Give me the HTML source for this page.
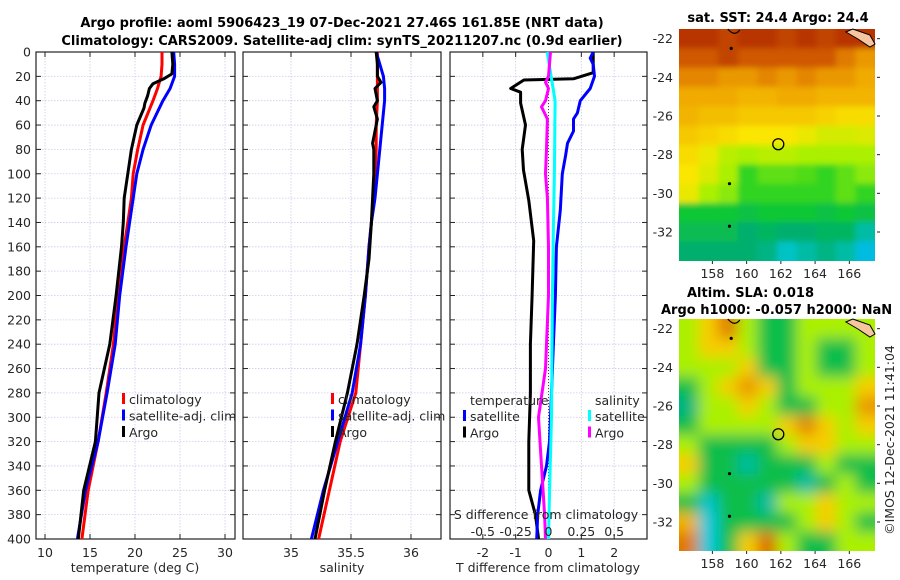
<!DOCTYPE html>
<html><head><meta charset="utf-8">
<style>
html,body{margin:0;padding:0;background:#fff;}
svg{display:block;font-family:"DejaVu Sans","Liberation Sans",sans-serif;}
.t{font-size:12.5px;fill:#262626;}
.ti{font-size:13px;font-weight:bold;fill:#000;}
</style></head>
<body>
<svg id="fig" width="900" height="580" viewBox="0 0 900 580">
<defs>
<filter id="blur" x="-10%" y="-10%" width="120%" height="120%"><feGaussianBlur stdDeviation="7" edgeMode="duplicate"/></filter>
<filter id="blur2" x="-10%" y="-10%" width="120%" height="120%"><feGaussianBlur stdDeviation="3" edgeMode="duplicate"/></filter>
<clipPath id="clip-sst"><rect x="679" y="29" width="196" height="232"/></clipPath>
<clipPath id="clip-sla"><rect x="679" y="319" width="196" height="232"/></clipPath>
</defs>
</svg>
<script>
// ---------- data ----------
const depthTicks=[0,20,40,60,80,100,120,140,160,180,200,220,240,260,280,300,320,340,360,380,400];
const tempTicks=[10,15,20,25,30];
const salTicks=[35,35.5,36];
const salTickLabels=["35","35.5","36"];
const tdiffTicks=[-2,-1,0,1,2];
const sdiffTicks=[-0.5,-0.25,0,0.25,0.5];
const sdiffTickLabels=["-0.5","-0.25","0","0.25","0.5"];
const lonTicks=[158,160,162,164,166];
const latTicks=[-22,-24,-26,-28,-30,-32];

const climDepth=[0,10,20,30,40,60,80,100,120,140,160,200,240,280,320,360,400];
const climTemp=[23.0,23.0,22.9,22.5,22.0,20.9,20.3,19.8,19.6,19.2,18.8,18.1,17.6,16.8,15.9,14.8,14.1];
const satTemp=[24.3,24.4,24.4,23.9,23.1,21.8,20.9,20.2,19.8,19.4,19.0,18.3,17.8,16.9,15.9,14.5,13.6];
const argoDepth=[0,10,18,22,26,30,36,42,46,60,80,100,120,140,160,200,240,280,320,360,400];
const argoTemp=[24.1,24.2,24.1,23.2,22.0,21.6,21.4,21.1,21.0,20.2,19.6,19.2,18.8,18.7,18.5,17.9,17.2,16.0,15.6,14.3,13.7];

const climSal=[35.72,35.72,35.72,35.72,35.72,35.71,35.71,35.70,35.69,35.67,35.65,35.62,35.58,35.54,35.41,35.32,35.23];
const satSal=[35.71,35.74,35.77,35.78,35.78,35.76,35.74,35.72,35.70,35.67,35.65,35.62,35.58,35.51,35.39,35.27,35.17];
const argoSalDepth=[0,10,20,25,30,40,45,55,75,80,100,120,140,170,200,240,280,320,360,400];
const argoSal=[35.71,35.72,35.72,35.75,35.70,35.72,35.69,35.72,35.68,35.69,35.69,35.68,35.67,35.65,35.61,35.55,35.47,35.37,35.28,35.20];

const satTdDepth=[0,5,10,20,30,40,50,55,65,75,85,100,130,160,200,240,280,320,340,360,380,400];
const satTdiff=[1.36,1.27,1.36,1.4,1.27,0.97,0.88,0.76,0.76,0.58,0.52,0.42,0.36,0.24,0.21,0.15,0.09,0.03,-0.06,-0.24,-0.33,-0.36];
const argoTdDepth=[0,17,22,23,30,33,42,60,80,97,122,155,200,240,280,320,360,380,400];
const argoTdiff=[1.36,1.36,0.76,-0.75,-1.15,-0.85,-0.85,-0.7,-0.8,-0.76,-0.6,-0.45,-0.5,-0.55,-0.55,-0.6,-0.6,-0.4,-0.3];
const satSdDepth=[0,20,40,100,140,200,300,360,400];
const satSdiff=[-0.01,0.02,0.05,0.045,0.038,0.03,0.023,0.008,0.0];
const argoSdDepth=[0,20,25,30,40,45,55,80,100,120,160,200,260,300,340,380,400];
const argoSdiff=[0.015,0.0,-0.023,0.0,-0.023,-0.053,-0.008,-0.015,-0.023,-0.008,0.0,0.0,-0.023,-0.076,-0.053,-0.03,-0.023];

// map grids (rows north->south, cols west->east), normalised colour value 0..1
const sstGrid=[
[0.9,0.9,0.88,0.9,0.9,0.88,0.9,0.88,0.9,0.9],
[0.85,0.85,0.88,0.85,0.85,0.85,0.85,0.85,0.8,0.75],
[0.78,0.78,0.75,0.75,0.78,0.75,0.78,0.75,0.75,0.72],
[0.72,0.72,0.72,0.7,0.7,0.72,0.72,0.7,0.7,0.7],
[0.7,0.68,0.68,0.66,0.66,0.66,0.66,0.64,0.62,0.62],
[0.66,0.64,0.62,0.6,0.6,0.6,0.58,0.55,0.55,0.56],
[0.62,0.58,0.52,0.5,0.52,0.52,0.5,0.5,0.5,0.5],
[0.6,0.56,0.5,0.42,0.45,0.45,0.44,0.42,0.45,0.48],
[0.58,0.5,0.48,0.42,0.42,0.42,0.42,0.42,0.45,0.42],
[0.38,0.38,0.38,0.36,0.38,0.38,0.38,0.36,0.38,0.36],
[0.34,0.34,0.34,0.3,0.32,0.3,0.3,0.32,0.32,0.25],
[0.3,0.3,0.3,0.3,0.28,0.22,0.25,0.28,0.25,0.18]];
const slaGrid=[
[0.5,0.65,0.8,0.5,0.35,0.35,0.5,0.5,0.5,0.5],
[0.5,0.65,0.65,0.5,0.35,0.35,0.5,0.35,0.35,0.5],
[0.5,0.5,0.5,0.65,0.35,0.35,0.5,0.35,0.35,0.5],
[0.35,0.5,0.65,0.75,0.65,0.35,0.5,0.5,0.5,0.65],
[0.28,0.5,0.5,0.65,0.5,0.35,0.35,0.5,0.5,0.75],
[0.35,0.5,0.5,0.5,0.5,0.65,0.78,0.65,0.5,0.65],
[0.5,0.35,0.35,0.35,0.35,0.5,0.65,0.65,0.5,0.5],
[0.65,0.35,0.35,0.25,0.35,0.35,0.35,0.5,0.35,0.35],
[0.5,0.35,0.35,0.35,0.35,0.35,0.25,0.35,0.5,0.35],
[0.35,0.22,0.35,0.35,0.25,0.5,0.5,0.65,0.5,0.5],
[0.7,0.2,0.35,0.35,0.35,0.35,0.5,0.65,0.5,0.35],
[0.8,0.2,0.35,0.65,0.82,0.5,0.35,0.35,0.5,0.5]];

const argoLon=161.85, argoLat=-27.46;

// ---------- helpers ----------
const NS="http://www.w3.org/2000/svg";
const svg=document.getElementById('fig');
function el(tag,attrs,parent){const e=document.createElementNS(NS,tag);for(const k in attrs)e.setAttribute(k,attrs[k]);(parent||svg).appendChild(e);return e;}
function txt(s,x,y,cls,anchor,parent){const e=el('text',{x:x,y:y,class:cls,'text-anchor':anchor||'start'},parent);e.textContent=s;return e;}
function lin(d0,d1,r0,r1){return v=>r0+(v-d0)/(d1-d0)*(r1-r0);}

const TOP=52,BOT=539;
const yD=lin(0,400,TOP,BOT);

function panel(name,x0,x1,xd0,xd1,xticks,xlabels,showY){
  const g=el('g',{},svg);
  
  
  const xs=lin(xd0,xd1,x0,x1);
  depthTicks.forEach(d=>{const l=el('line',{x1:x0,x2:x1,y1:yD(d),y2:yD(d),stroke:'#c8cde8','stroke-width':0.8,'stroke-dasharray':'1.5,1.5'},g);
    
    el('line',{x1:x0,x2:x0+5,y1:yD(d),y2:yD(d),stroke:'#222'},g);el('line',{x1:x1-5,x2:x1,y1:yD(d),y2:yD(d),stroke:'#222'},g);
    if(showY){const t=txt(String(d),31,yD(d)+4.5,'t','end',g);}
  });
  xticks.forEach((v,i)=>{const X=xs(v);
    const l=el('line',{x1:X,x2:X,y1:TOP,y2:BOT,stroke:'#c8cde8','stroke-width':0.8,'stroke-dasharray':'1.5,1.5'},g);
    
    el('line',{x1:X,x2:X,y1:BOT,y2:BOT-5,stroke:'#222'},g);el('line',{x1:X,x2:X,y1:TOP,y2:TOP+5,stroke:'#222'},g);
    const t=txt(xlabels?xlabels[i]:String(v),X,557,'t','middle',g);
  });
  const r=el('rect',{x:x0,y:TOP,width:x1-x0,height:BOT-TOP,fill:'none',stroke:'#222','stroke-width':1.2},g);
  
  return {g,xs};
}
function series(p,xs,vals,depths,color,name){
  const pts=vals.map((v,i)=>xs(v).toFixed(1)+','+yD(depths[i]).toFixed(1)).join(' ');
  const l=el('polyline',{points:pts,fill:'none',stroke:color,'stroke-width':3,'stroke-linejoin':'round'},p);
  
}
function legend(p,x,y,items){
  items.forEach((it,i)=>{const yy=y+i*16.5;
    const m=el('rect',{x:x,y:yy-8,width:3,height:11,fill:it[1]},p);
    
    const t=txt(it[0],x+7,yy+3,'t','start',p);
  });
}

let t1=txt('Argo profile: aoml 5906423_19 07-Dec-2021 27.46S 161.85E (NRT data)',342,27,'ti','middle');

let t2=txt('Climatology: CARS2009. Satellite-adj clim: synTS_20211207.nc (0.9d earlier)',342,45,'ti','middle');


const P1=panel('temperature-panel',36,235,9,31.11,tempTicks,null,true);
series(P1.g,P1.xs,climTemp,climDepth,'#ff0000','climatology-temp-line');
series(P1.g,P1.xs,satTemp,climDepth,'#0000ff','satellite-temp-line');
series(P1.g,P1.xs,argoTemp,argoDepth,'#000','argo-temp-line');
legend(P1.g,122,401,[['climatology','#f00'],['satellite-adj. clim','#00f'],['Argo','#000']]);
let xl=txt('temperature (deg C)',135,572,'t','middle');

const P2=panel('salinity-panel',243,441,34.6,36.25,salTicks,salTickLabels,false);
series(P2.g,P2.xs,climSal,climDepth,'#ff0000','climatology-sal-line');
series(P2.g,P2.xs,satSal,climDepth,'#0000ff','satellite-sal-line');
series(P2.g,P2.xs,argoSal,argoSalDepth,'#000','argo-sal-line');
legend(P2.g,331,401,[['climatology','#f00'],['satellite-adj. clim','#00f'],['Argo','#000']]);
xl=txt('salinity',342,572,'t','middle');

const P3=panel('difference-panel',450,647,-3,3,tdiffTicks,null,false);
const xsS=lin(-0.75,0.75,450,647);
let zl=el('line',{x1:P3.xs(0),x2:P3.xs(0),y1:TOP,y2:BOT,stroke:'#444','stroke-width':1,'stroke-dasharray':'1,2'},P3.g);

series(P3.g,P3.xs,argoTdiff,argoTdDepth,'#000','argo-tdiff-line');
series(P3.g,P3.xs,satTdiff,satTdDepth,'#0000ff','satellite-tdiff-line');
series(P3.g,xsS,satSdiff,satSdDepth,'#00ffff','satellite-sdiff-line');
series(P3.g,xsS,argoSdiff,argoSdDepth,'#ff00ff','argo-sdiff-line');
let lh=txt('temperature',470,405,'t','start',P3.g);
lh=txt('salinity',595,405,'t','start',P3.g);
legend(P3.g,463,418,[['satellite','#00f'],['Argo','#000']]);
legend(P3.g,588,418,[['satellite','#0ff'],['Argo','#f0f']]);
xl=txt('S difference from climatology',546,519,'t','middle',P3.g);
sdiffTicks.forEach((v,i)=>{const t=txt(sdiffTickLabels[i],xsS(v),536,'t','middle',P3.g);});
xl=txt('T difference from climatology',548,572,'t','middle');

// ---------- maps ----------
const cmapStops=[[0,[0,80,255]],[0.2,[0,200,220]],[0.3,[0,175,110]],[0.4,[20,205,40]],[0.5,[170,240,0]],[0.6,[250,230,0]],[0.72,[240,170,0]],[0.82,[220,110,0]],[0.92,[175,40,0]],[1,[140,0,0]]];
function cmap(v){for(let i=1;i<cmapStops.length;i++){if(v<=cmapStops[i][0]){const a=cmapStops[i-1],b=cmapStops[i];const f=(v-a[0])/(b[0]-a[0]);return 'rgb('+a[1].map((c,k)=>Math.round(c+f*(b[1][k]-c))).join(',')+')';}}return 'rgb(140,0,0)';}
function drawMap(name,grid,y0,y1,clipId,filt){
  const x0=679,x1=875;
  const g=el('g',{},svg);
  
  const xl=lin(156.05,167.5,x0,x1), yl=lin(-21.5,-33.5,y0,y1);
  const cg=el('g',{'clip-path':'url(#'+clipId+')'},g);
  const fg=el('g',{filter:'url(#'+filt+')'},cg);
  const rows=grid.length, cols=grid[0].length, cw=(x1-x0)/cols, ch=(y1-y0)/rows;
  grid.forEach((row,r)=>row.forEach((v,c)=>{const rc=el('rect',{x:x0+c*cw-(c==0?20:0),y:y0+r*ch-(r==0?20:0),width:cw+0.5+(c==0||c==cols-1?20:0),height:ch+0.5+(r==0||r==rows-1?20:0),fill:cmap(v)},fg);
    }));
  let p=el('path',{d:`M${xl(166.2)},${y0} L${xl(167.2)},${y0+6} L${xl(167.5)},${y0+15} L${xl(167.2)},${y0+18} L${xl(166.5)},${y0+10} L${xl(165.8)},${y0+3} Z`,fill:'#f5c6a0',stroke:'#000','stroke-width':1},g);
  
  p=el('path',{d:`M${xl(158.9)},${y0} Q${xl(159.3)},${y0+8} ${xl(159.6)},${y0+1}`,fill:'none',stroke:'#000','stroke-width':1.2},g);
  
  [[159.1,-22.5],[159.0,-29.5],[159.0,-31.7]].forEach(q=>{const d=el('circle',{cx:xl(q[0]),cy:yl(q[1]),r:1.6,fill:'#000'},g);});
  const c=el('circle',{cx:xl(argoLon),cy:yl(argoLat),r:5.5,fill:'none',stroke:'#000','stroke-width':1.3},g);
  
  lonTicks.forEach(v=>{const t=txt(String(v),xl(v),y1+17,'t','middle',g);
    el('line',{x1:xl(v),x2:xl(v),y1:y1,y2:y1+3,stroke:'#222'},g);});
  latTicks.forEach(v=>{const t=txt(String(v),673,yl(v)+4.5,'t','end',g);
    el('line',{x1:x1+2,x2:x1+5,y1:yl(v),y2:yl(v),stroke:'#222'},g);});
}
drawMap('sst-map',sstGrid,29,261,'clip-sst','blur2');
drawMap('sla-map',slaGrid,319,551,'clip-sla','blur');
let mt=txt('sat. SST: 24.4 Argo: 24.4',778,22,'ti','middle');
mt=txt('Altim. SLA: 0.018',687,297,'ti','start');
mt=txt('Argo h1000: -0.057 h2000: NaN',661,314,'ti','start');
mt=txt('©IMOS 12-Dec-2021 11:41:04',0,0,'t','middle');mt.setAttribute('transform','translate(894,440) rotate(-90)');

</script>
</body></html>
